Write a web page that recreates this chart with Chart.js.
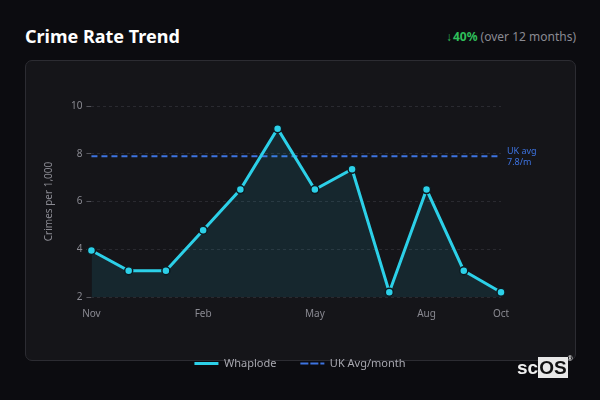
<!DOCTYPE html>
<html>
<head>
<meta charset="utf-8">
<script src="https://cdn.jsdelivr.net/npm/chart.js@4"></script>
<style>
  html, body { margin:0; padding:0; width:600px; height:400px; background:#0c0c10; overflow:hidden; font-family:"Noto Sans", sans-serif; }
  #title { position:absolute; left:25px; top:24px; color:#ffffff; font-weight:700; font-size:18px; }
  #change { position:absolute; right:24px; top:28px; font-size:12px; color:#8a8a92; }
  #change b { color:#2fbf5a; }
  #change i { font-style:normal; color:#2fbf5a; font-weight:400; margin-right:1px; }
  #card { position:absolute; left:25px; top:60px; width:549px; height:299px; border:1px solid #2c2c32; border-radius:7px; background:#151519; }
  #wrap { position:absolute; left:25px; top:60px; width:550px; height:319px; }
  #logo { position:absolute; left:517px; top:357px; font-family:"Liberation Sans", sans-serif; font-size:19px; font-weight:700; color:#f0f0f0; }
  #logo span.box { background:#e8e8e8; color:#111; padding:0 1px; }
  #logo sup { font-size:7px; vertical-align:top; position:relative; top:-2px; }
</style>
</head>
<body>
<div id="title">Crime Rate Trend</div>
<div id="change"><i>↓</i><b>40%</b> (over 12 months)</div>
<div id="card"></div>
<div id="wrap"><canvas id="c"></canvas></div>
<div id="logo">sc<span class="box">OS</span><sup>®</sup></div>
<script>
const months = ["Nov","Dec","Jan","Feb","Mar","Apr","May","Jun","Jul","Aug","Sep","Oct"];
const whaplode = [3.95, 3.1, 3.1, 4.8, 6.5, 9.05, 6.5, 7.35, 2.2, 6.5, 3.1, 2.2];
const ukAvgValue = 7.9;
const ukAvgLabel = "7.8/m";
const ukAvg = months.map(() => ukAvgValue);
const yTicks = [2, 4, 6, 8, 10];
const shownLabels = ["Nov","Feb","May","Aug","Oct"];

const annot = {
  id: 'annot',
  afterLayout(chart) {
    const lg = chart.legend;
    if (lg) {
      lg.left = 0; lg.right = chart.width; lg.width = chart.width;
    }
  },
  afterDatasetsDraw(chart) {
    const {ctx, chartArea, scales} = chart;
    const y = scales.y.getPixelForValue(ukAvgValue);
    ctx.save();
    ctx.fillStyle = '#3d73e0';
    ctx.font = '9px "Noto Sans"';
    ctx.textBaseline = 'middle';
    ctx.fillText('UK avg', chartArea.right + 6, y - 5);
    ctx.fillText(ukAvgLabel, chartArea.right + 6, y + 6);
    ctx.restore();
  }
};

new Chart(document.getElementById('c'), {
  type: 'line',
  data: {
    labels: months,
    datasets: [
      {
        label: 'Whaplode',
        data: whaplode,
        borderColor: '#2cd0e8',
        backgroundColor: 'rgba(44,208,232,0.10)',
        borderWidth: 3,
        fill: 'start',
        tension: 0,
        pointRadius: 4,
        pointBackgroundColor: '#2cd0e8',
        pointBorderColor: '#0d1a20',
        pointBorderWidth: 1.5
      },
      {
        label: 'UK Avg/month',
        data: ukAvg,
        borderColor: '#3d73e0',
        borderWidth: 2,
        borderDash: [6, 4],
        pointRadius: 0,
        fill: false
      }
    ]
  },
  options: {
    responsive: true,
    maintainAspectRatio: false,
    animation: false,
    layout: { padding: { top: 46, right: 74, left: 14, bottom: 0 } },
    plugins: {
      legend: {
        position: 'bottom',
        labels: {
          color: '#a8a8b0',
          font: { size: 11, family: 'Noto Sans' },
          boxWidth: 24,
          boxHeight: 0,
          padding: 24,
          generateLabels(chart) {
            return chart.data.datasets.map((ds, i) => ({
              text: ds.label,
              fillStyle: ds.borderColor,
              strokeStyle: ds.borderColor,
              lineWidth: i === 0 ? 3 : 2,
              lineDash: ds.borderDash || [],
              fontColor: '#a8a8b0',
              datasetIndex: i
            }));
          }
        }
      },
      tooltip: { enabled: false }
    },
    scales: {
      x: {
        grid: { display: false },
        border: { display: false },
        afterFit(axis) { axis.height += 11; },
        ticks: {
          color: '#8a8a92',
          font: { size: 10, family: 'Noto Sans' },
          autoSkip: false,
          maxRotation: 0,
          callback(v, i) { const l = months[i]; return shownLabels.includes(l) ? l : ''; }
        }
      },
      y: {
        min: 2, max: 10,
        afterBuildTicks(axis) { axis.ticks = yTicks.map(v => ({ value: v })); },
        grid: { color: '#2a2a30', tickColor: '#55555c', tickLength: 5 },
        border: { display: false, dash: [3, 3] },
        ticks: { color: '#8a8a92', font: { size: 10, family: 'Noto Sans' }, padding: 4 },
        title: { display: true, text: 'Crimes per 1,000', color: '#8a8a92', font: { size: 10, family: 'Noto Sans' }, padding: { top: 4, bottom: 12 } }
      }
    }
  },
  plugins: [annot]
});
</script>
</body>
</html>
